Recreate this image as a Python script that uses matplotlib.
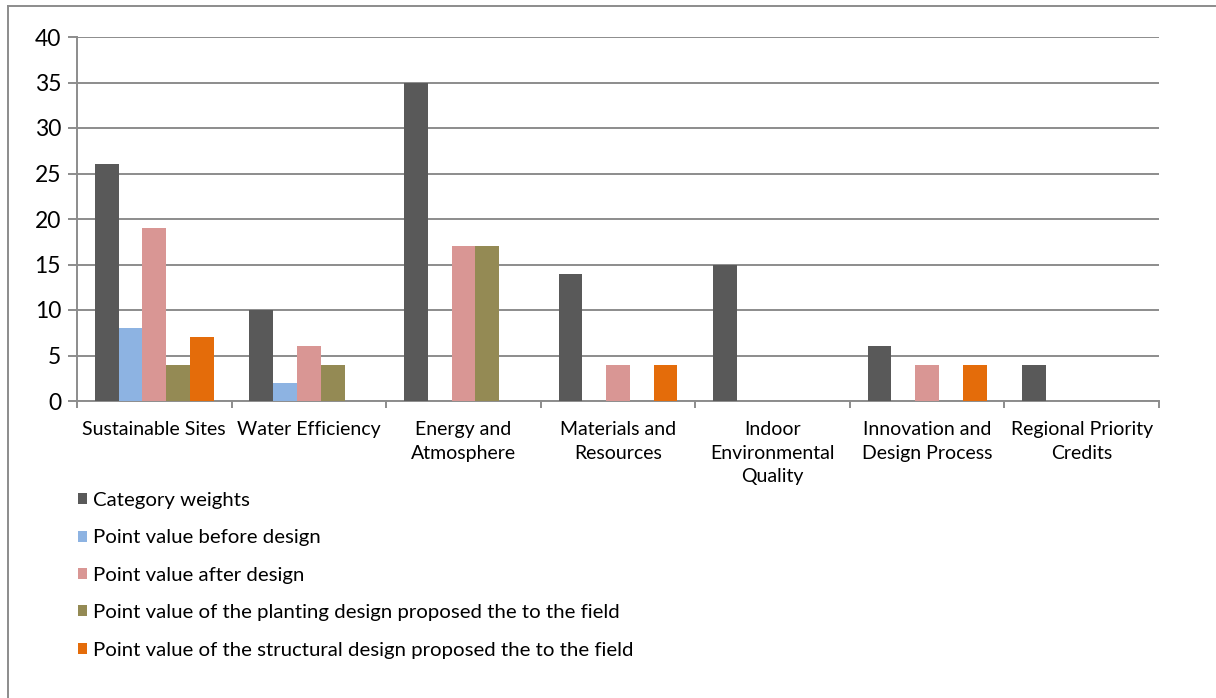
import matplotlib
matplotlib.use("Agg")
import matplotlib.pyplot as plt
from matplotlib.patches import Patch
from matplotlib.lines import Line2D
import numpy as np

categories = ["Sustainable Sites", "Water Efficiency", "Energy and\nAtmosphere",
              "Materials and\nResources", "Indoor\nEnvironmental\nQuality",
              "Innovation and\nDesign Process", "Regional Priority\nCredits"]
series_names = ["Category weights", "Point value before design", "Point value after design",
                "Point value of the planting design proposed the to the field",
                "Point value of the structural design proposed the to the field"]
category_weights = [26, 10, 35, 14, 15, 6, 4]
before_design = [8, 2, 0, 0, 0, 0, 0]
after_design = [19, 6, 17, 4, 0, 4, 0]
planting_design = [4, 4, 17, 0, 0, 0, 0]
structural_design = [7, 0, 0, 4, 0, 4, 0]
yticks = [0, 5, 10, 15, 20, 25, 30, 35, 40]

colors = ["#595959", "#8db3e2", "#d99694", "#948a54", "#e46c0a"]
series = [category_weights, before_design, after_design, planting_design, structural_design]

plt.rcParams['font.family'] = ['Lato', 'DejaVu Sans']
W, H = 1216, 698
fig = plt.figure(figsize=(W/100, H/100), dpi=100)
ax = fig.add_axes([77/W, 1-401/H, (1159-77)/W, (401-37)/H])

n = len(categories)
bw = 1/6.5
x = np.arange(n)
for i, (vals, c) in enumerate(zip(series, colors)):
    ax.bar(x - 2.5*bw + (i+0.5)*bw, vals, width=bw, color=c, label=series_names[i], zorder=3)

ax.set_xlim(-0.5, n-0.5)
ax.set_ylim(0, 40)
ax.set_yticks(yticks)
ax.set_yticklabels([str(v) for v in yticks], fontsize=16.5)
ax.yaxis.grid(True, color="#8c8c8c", linewidth=1.4, zorder=0)
ax.set_axisbelow(True)
for s in ["top", "right"]:
    ax.spines[s].set_visible(False)
for s in ["left", "bottom"]:
    ax.spines[s].set_color("#8c8c8c")
    ax.spines[s].set_linewidth(1.4)
ax.tick_params(axis="y", length=6.5, width=1.4, color="#8c8c8c", pad=5)
ax.set_xticks(np.arange(n+1) - 0.5)
ax.set_xticklabels([])
ax.tick_params(axis="x", length=5, width=1.4, color="#8c8c8c")
ax.set_xticks(x, minor=True)
ax.set_xticklabels(categories, minor=True, fontsize=14, linespacing=1.47, va="top")
ax.tick_params(axis="x", which="minor", length=0, pad=14.5)

handles = [Patch(facecolor=c, edgecolor="none") for c in colors]
fig.legend(handles, series_names, loc="upper left", bbox_to_anchor=(78/W, 1-492/H),
           frameon=False, fontsize=14.7, handlelength=0.45, handleheight=0.45,
           handletextpad=0.3, labelspacing=1.0, borderaxespad=0, borderpad=0)

fig.add_artist(Line2D([8/W, 1215/W], [1-6/H, 1-6/H], color="#8c8c8c", linewidth=1.4))
fig.add_artist(Line2D([8/W, 8/W], [1-6/H, 0], color="#8c8c8c", linewidth=1.4))

fig.savefig("out.png", dpi=100)
